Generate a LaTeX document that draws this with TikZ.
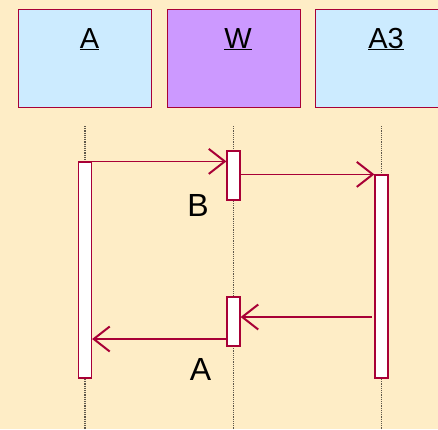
\documentclass[tikz,border=0pt]{standalone}
\usepackage{fontspec}
\setmainfont{Liberation Sans}
\usetikzlibrary{arrows.meta}
\definecolor{bgc}{HTML}{FEEDC6}
\definecolor{partc}{HTML}{CCEBFF}
\definecolor{wc}{HTML}{CC99FF}
\definecolor{bordc}{HTML}{A80036}
\definecolor{lifec}{HTML}{5E574A}
\tikzset{
  part/.style={draw=bordc, line width=1pt, minimum width=133pt, minimum height=98pt, inner sep=0pt},
  plabel/.style={font=\fontsize{29}{29}\selectfont, inner sep=0pt, anchor=base},
  act/.style={draw=bordc, fill=white, line width=1.2pt, minimum width=13pt, inner sep=0pt},
  life/.style={draw=lifec, line width=1.2pt, dash pattern=on 1.2pt off 1pt},
  msg/.style={draw=bordc, line width=1.3pt, -{Straight Barb[length=16pt,width=25pt,line width=2pt]}},
  mlabel/.style={font=\fontsize{32}{32}\selectfont, inner sep=0pt},
}
\begin{document}
\begin{tikzpicture}[x=1pt,y=-1pt]
\fill[bgc] (0,0) rectangle (438,429);
\useasboundingbox (0,0) rectangle (438,429);
% participants
\node[part, fill=partc] (pA) at (84.5,58) {};
\node[part, fill=wc] (pW) at (233.5,58) {};
\node[part, fill=partc] (pA3) at (381.5,58) {};
\node[plabel] (tA) at (89.5,48) {\underline{A}};
\node[plabel] (tW) at (238,48) {\underline{W}};
\node[plabel] (tA3) at (386,48) {\underline{A3}};
% lifelines
\coordinate (lAt) at (85,126); \coordinate (lAb) at (85,429);
\coordinate (lWt) at (233.5,126); \coordinate (lWb) at (233.5,429);
\coordinate (lA3t) at (381.5,126); \coordinate (lA3b) at (381.5,429);
\draw[life] (lAt) -- (lAb);
\draw[life] (lWt) -- (lWb);
\draw[life] (lA3t) -- (lA3b);
% activations
\node[act, minimum height=216pt] (aA) at (85,270) {};
\node[act, minimum height=49pt] (aW1) at (233.5,175.5) {};
\node[act, minimum height=49pt] (aW2) at (233.5,321.5) {};
\node[act, minimum height=203pt] (aA3) at (381.5,276.5) {};
% messages
\coordinate (m3s) at (372,317);
\coordinate (m4y) at (0,339);
\draw[msg] (aA.north east) -- (aA.north east -| aW1.west);
\draw[msg] (aA3.north west -| aW1.east) -- (aA3.north west);
\draw[msg] (m3s) -- (m3s -| aW2.east);
\draw[msg] (m4y -| aW2.west) -- (m4y -| aA.east);
\node[mlabel] (lB) at (198,205) {B};
\node[mlabel] (lA) at (200.5,369.5) {A};
\end{tikzpicture}
\end{document}
